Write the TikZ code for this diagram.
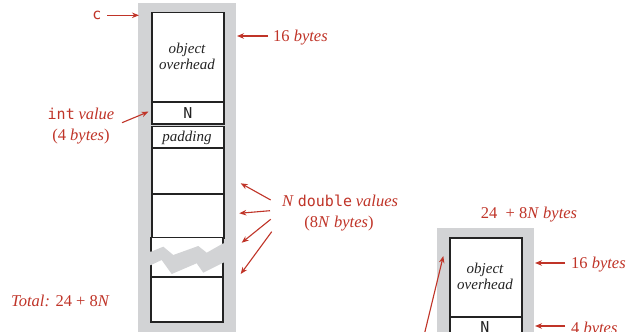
\documentclass[tikz,border=0pt]{standalone}
\usepackage{fontspec}
\setmainfont{Liberation Serif}
\setmonofont{DejaVu Sans Mono}
\usetikzlibrary{arrows.meta}
\definecolor{lbl}{RGB}{192,52,40}
\definecolor{framegray}{RGB}{210,211,213}
\definecolor{ink}{RGB}{35,35,35}
\begin{document}
\begin{tikzpicture}[x=1pt,y=-1pt,
  lab/.style={text=lbl,font=\fontsize{16.5}{19}\selectfont,inner sep=0pt},
  monolab/.style={text=lbl,font=\fontsize{15}{18}\selectfont\ttfamily,inner sep=0pt},
  arr/.style={draw=lbl,line width=1.1pt,-{Stealth[length=7pt,width=5.5pt]}},
  cell/.style={draw=ink,line width=1.6pt,fill=white,minimum width=72pt,inner sep=0pt,anchor=north west},
  boxtxt/.style={text=ink,font=\fontsize{15}{16}\selectfont\itshape,align=center,inner sep=0pt},
  boxmono/.style={text=ink,font=\fontsize{15}{16}\selectfont\ttfamily,inner sep=0pt},
  edge/.style={draw=ink,line width=1.6pt}]
\clip (0,0) rectangle (640,332);
\fill[white] (0,0) rectangle (640,332);
% ---------- left object ----------
\fill[framegray] (138,3) rectangle (236,345);
\node[cell,minimum height=89.5pt] (oh) at (151,11.5) {};
\node[boxtxt] (ohtxt) at (187,56) {object\\overhead};
\node[cell,minimum height=22pt] (ncell) at (151,101) {};
\node[boxmono] (ntxt) at (ncell.center) {N};
\node[cell,minimum height=21.5pt] (pad) at (151,125.5) {};
\node[boxtxt,anchor=base] (padtxt) at (187,141) {padding};
\node[cell,minimum height=46pt] (d1) at (151,147) {};
\node[cell,minimum height=44.5pt] (d2) at (151,193) {};
% broken cell
\fill[white] (151,237.5) rectangle (223,322);
\draw[edge] (151,252) -- (151,237.5) -- (223,237.5) -- (223,252);
\draw[edge] (151,262) -- (151,322) -- (223,322) -- (223,260);
\draw[edge] (151,277) -- (223,277);
\fill[framegray] (144,252) -- (151,251.7) -- (163.3,246.7) -- (173.3,255) -- (198.3,246) -- (206.7,252.7) -- (223.3,243.3) -- (230,243)
  -- (230,262.7) -- (223.3,262.7) -- (203.3,272.7) -- (196.7,263.3) -- (171.7,274) -- (161.7,260) -- (151,265) -- (144,265) -- cycle;
% labels left
\node[monolab] (c) at (97,15) {c};
\coordinate (cTip) at (139,15.3);
\draw[arr] (107,15.3) -- (cTip);
\node[lab,anchor=base west] (b16) at (273,41.7) {16 \textit{bytes}};
\coordinate (b16Tip) at (237,36);
\draw[arr] (268,36) -- (b16Tip);
\node[lab,anchor=base] (intv) at (81,119) {\fontsize{15}{18}\selectfont\texttt{int} \fontsize{16.5}{19}\selectfont\textit{value}};
\node[lab,anchor=base] (intb) at (81,140) {(4 \textit{bytes})};
\coordinate (intTip) at (148.5,111.7);
\draw[arr] (122,122.7) -- (intTip);
\node[lab,anchor=base] (dv) at (340,206) {\textit{N} \fontsize{15}{18}\selectfont\texttt{double} \fontsize{16.5}{19}\selectfont\textit{values}};
\node[lab,anchor=base] (db) at (339,227) {(8\textit{N} \textit{bytes})};
\coordinate (t1) at (240.7,183.3);
\coordinate (t2) at (239.3,213.3);
\coordinate (t3) at (241.7,242.7);
\coordinate (t4) at (240.7,274);
\draw[arr] (270.7,200) -- (t1);
\draw[arr] (270,210.7) -- (t2);
\draw[arr] (270.7,219.3) -- (t3);
\draw[arr] (271.7,231.7) -- (t4);
\node[lab,anchor=base west] (tot) at (11,306.5) {\textit{Total:} 24 + 8\textit{N}};
% ---------- right object ----------
\node[lab,anchor=base] (sum) at (529,218.3) {24 ~+ 8\textit{N} \textit{bytes}};
\fill[framegray] (437,228) rectangle (534,345);
\node[cell,minimum height=79pt] (oh2) at (449,237) {};
\node[boxtxt] (oh2txt) at (485,276.5) {object\\overhead};
\node[cell,minimum height=30pt] (n2) at (449,316) {};
\node[boxmono] (n2txt) at (485,327) {N};
\node[lab,anchor=base west] (r16) at (571,268.3) {16 \textit{bytes}};
\coordinate (r16Tip) at (535,263);
\draw[arr] (565,263) -- (r16Tip);
\node[lab,anchor=base west] (r4) at (571,333.4) {4 \textit{bytes}};
\coordinate (r4Tip) at (535,326);
\draw[arr] (565,326) -- (r4Tip);
\coordinate (refTip) at (443.3,256);
\draw[arr] (421,348) -- (refTip);
\end{tikzpicture}
\end{document}
